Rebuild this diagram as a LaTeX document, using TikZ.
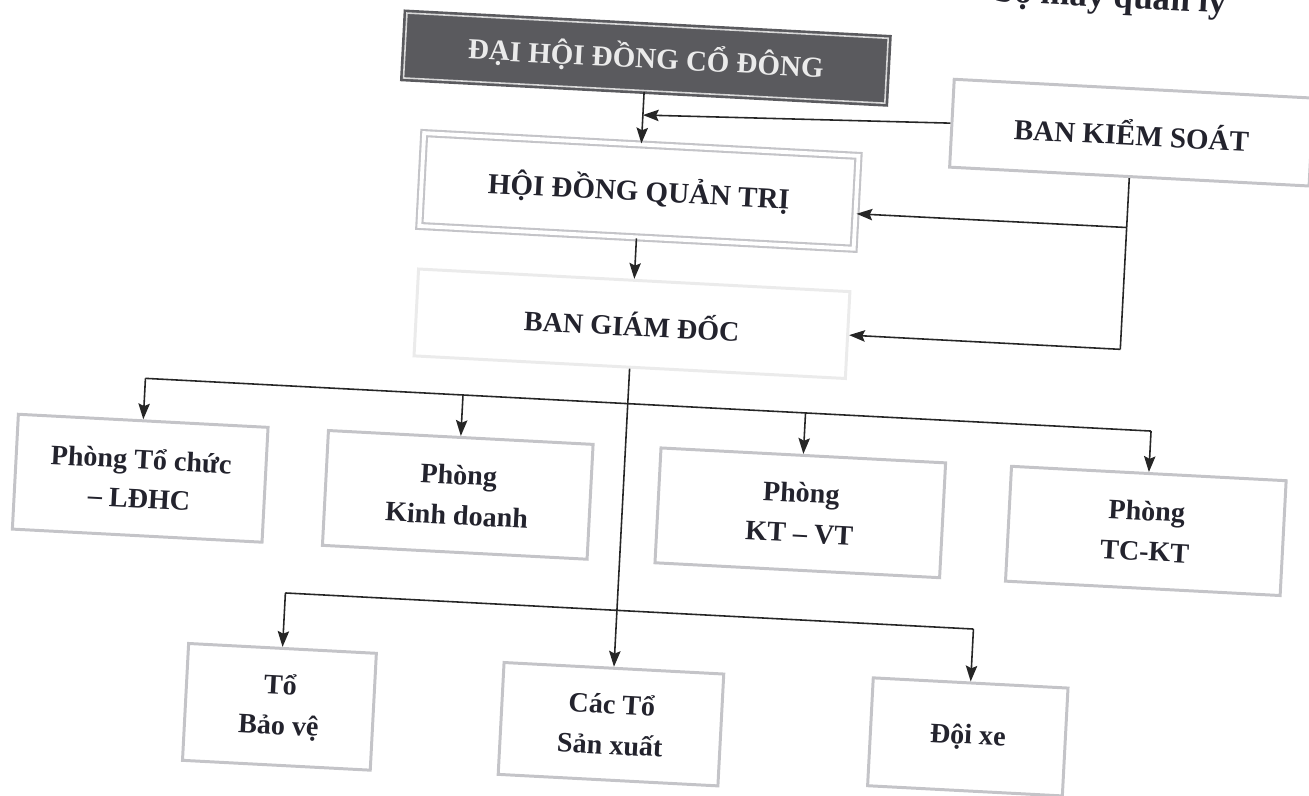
\documentclass[tikz,border=0pt]{standalone}
\usepackage{fontspec}
\setmainfont{Liberation Serif}
\usepackage{tikz}
\usetikzlibrary{arrows.meta}
\definecolor{khung}{RGB}{196,196,200}
\definecolor{nen}{RGB}{90,90,94}
\definecolor{chu}{RGB}{35,35,45}
\tikzset{
    >={Stealth[length=9pt, width=6.5pt, inset=1.5pt]},
    line/.style={draw, line width=0.9pt, color=black!85},
    capbox/.style={
        rectangle,
        draw=khung, line width=1.7pt,
        align=center,
        text=chu,
        font={\fontsize{16.5pt}{19pt}\selectfont\bfseries}
    },
    darkbox/.style={
        capbox,
        fill=nen, draw=nen,
        double=white!85!black, double distance=0.9pt, line width=1.5pt,
        text=white!92!black
    },
    doublebox/.style={capbox, double=white, double distance=2.2pt, line width=1.2pt},
    faintbox/.style={capbox, draw=black!8},
    roombox/.style={
        capbox,
        minimum height=2.3cm,
        font={\fontsize{16pt}{23pt}\selectfont\bfseries}
    },
    teambox/.style={roombox, minimum height=2.24cm},
}
\begin{document}
\begin{tikzpicture}[x=0.02cm, y=-0.02cm]
\useasboundingbox (0,0) rectangle (1309,795);
\clip (0,0) rectangle (1309,795);

% the scanned page is turned a little
\begin{scope}[rotate around={-3:(654,400)}, transform shape]

\node [anchor=base east, text=chu, font={\fontsize{20pt}{24pt}\selectfont\bfseries}] (tieude) at (1211,-16) {bộ máy quản lý};

\node [darkbox, minimum width=9.64cm, minimum height=1.3cm] (dhdcd) at (628,59) {ĐẠI HỘI ĐỒNG CỔ ĐÔNG};
\node [doublebox, minimum width=8.7cm, minimum height=1.86cm] (hdqt) at (628,192) {HỘI ĐỒNG QUẢN TRỊ};
\node [faintbox, minimum width=8.64cm, minimum height=1.74cm, font={\fontsize{16pt}{18pt}\selectfont\bfseries}] (bgd) at (628,325) {BAN GIÁM ĐỐC};
\node [capbox, minimum width=7.2cm, minimum height=1.76cm] (bks) at (1117,108) {BAN KIỂM SOÁT};

\coordinate (bks-1) at (628,116);
\coordinate (bks-2) at (1117,203);
\coordinate (bks-3) at (1117,325);

\foreach \x/\w/\l [count=\i] in {145/250/Phòng Tổ chức\\[-1pt]– LĐHC, 463/265/Phòng\\Kinh doanh, 806/285/Phòng\\KT – VT, 1152/275/Phòng\\TC-KT}
  {
  \node [roombox, minimum width=\w*0.02cm] (phong-\i) at (\x,505) {\l};
  \coordinate (nhanh-\i) at (\x,405);
  }

\foreach \x/\y/\w/\h/\l [count=\i] in {296/726/188/117/Tổ\\Bảo vệ, 628/726/220/112/Các Tổ\\Sản xuất, 985/720/195/108/Đội xe}
  {
  \node [teambox, minimum width=\w*0.02cm, minimum height=\h*0.02cm] (to-\i) at (\x,\y) {\l};
  \coordinate (duoi-\i) at (\x,612);
  }

\draw [line, ->] (dhdcd) -- (hdqt);
\draw [line, ->] (bks.west) -- (bks-1);
\draw [line, ->] (hdqt) -- (bgd);
\draw [line] (bks.south) -- (bks-3);
\draw [line, ->] (bks-2) -- (hdqt.-3);
\draw [line, ->] (bks-3) -- (bgd.east);
\draw [line, ->] (bgd) -- (to-2);

\draw [line] (nhanh-1) -- (nhanh-4);
\foreach \i in {1,...,4}
  \draw [line, ->] (nhanh-\i) -- (phong-\i);

\draw [line] (duoi-1) -- (duoi-3);
\foreach \i in {1,3}
  \draw [line, ->] (duoi-\i) -- (to-\i);

\end{scope}
\end{tikzpicture}
\end{document}
